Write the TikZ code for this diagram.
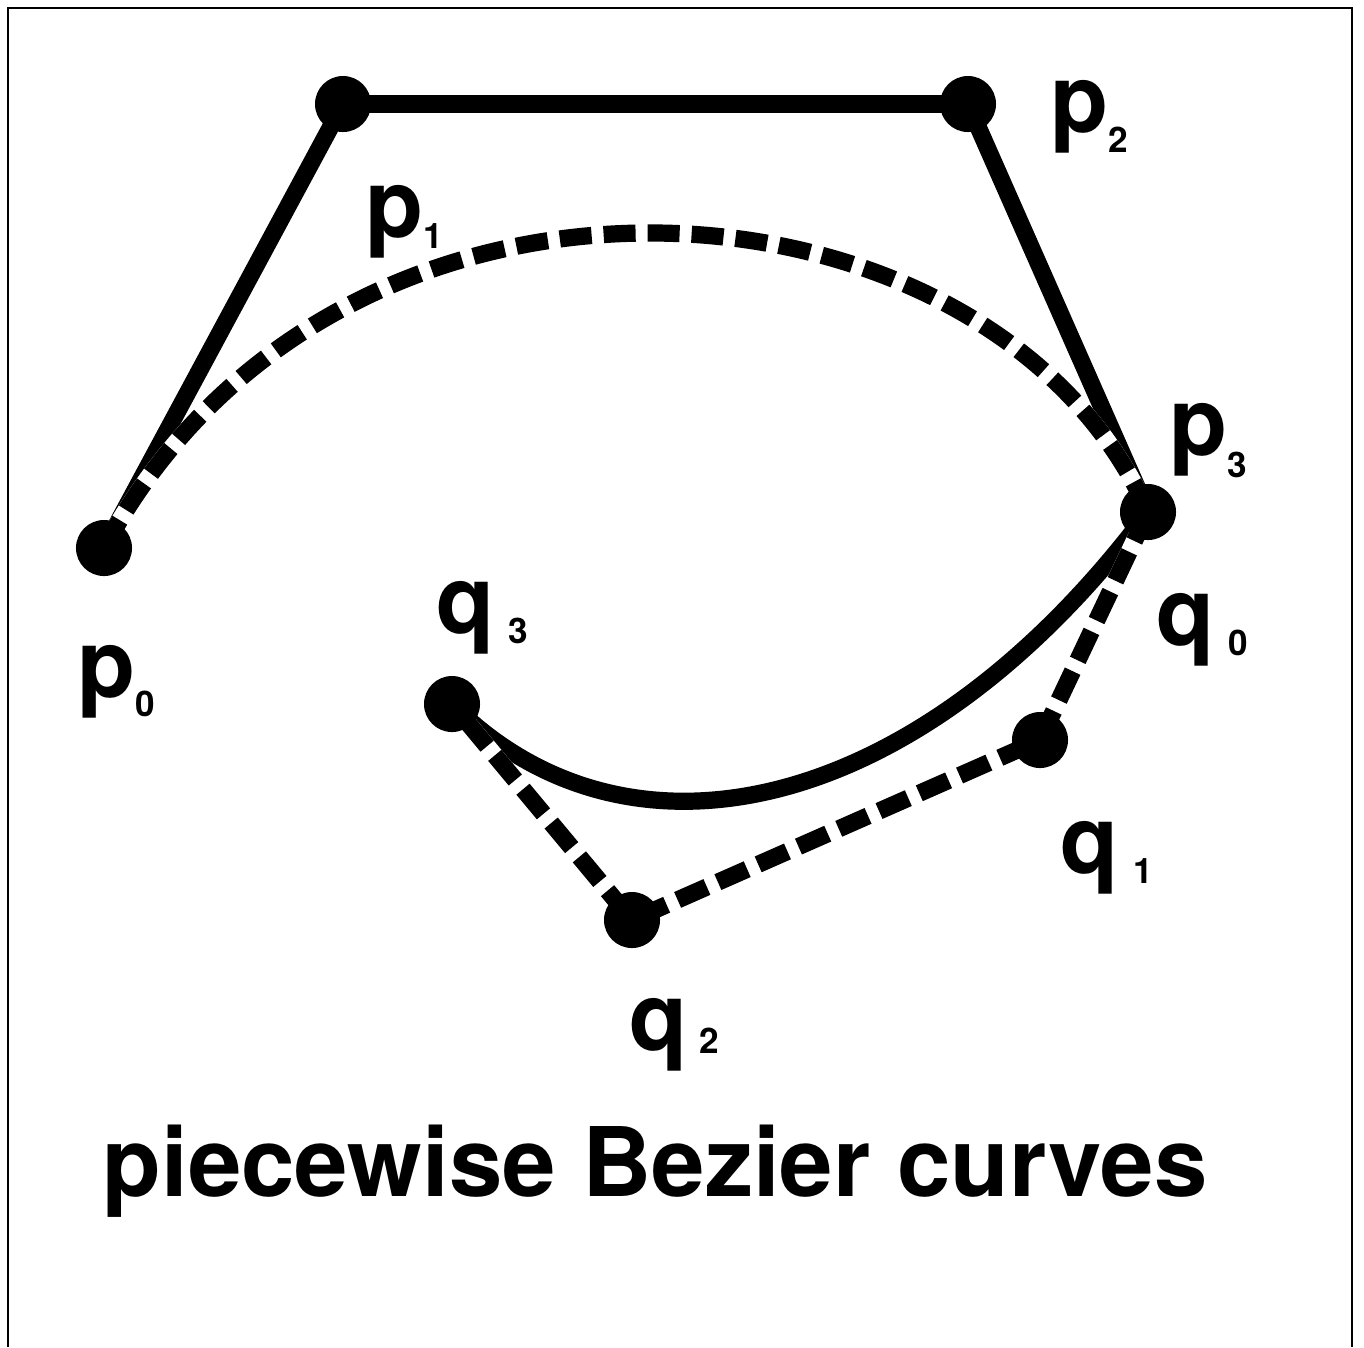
\documentclass[tikz,border=0pt]{standalone}
\usepackage{fontspec}
\setmainfont{TeX Gyre Heros}
\usepackage{tikz}
\usetikzlibrary{calc}

\newcommand{\ptlbl}[4]{{\fontsize{27}{30}\selectfont #1}\hspace{#3}\raisebox{-#4}{\fontsize{10}{12}\selectfont #2}}

\tikzset{
    dot/.style={circle, fill=black, inner sep=0pt, minimum size=0.56cm},
    polyline/.style={line width=0.172cm},
    dashline/.style={line width=0.172cm, dash pattern=on 0.32cm off 0.12cm,
        preaction={draw=white, solid, line width=0.172cm}},
    ptlabel/.style={anchor=base west, inner sep=0pt, font=\bfseries}
}

\begin{document}
\begin{tikzpicture}[x=0.01cm, y=-0.01cm]
    \useasboundingbox (0,0) rectangle (1364,1347);

    % Khung
    \draw[line width=0.022cm] (8,1347) -- (8,8) -- (1352,8) -- (1352,1347);

    % Cac diem dieu khien
    \coordinate (P0) at (104,548);
    \coordinate (P1) at (343,104);
    \coordinate (P2) at (968,104);
    \coordinate (P3) at (1148,512);
    \coordinate (Q1) at (1040,740);
    \coordinate (Q2) at (632,920);
    \coordinate (Q3) at (452,704);

    % Da giac p va duong cong p
    \draw[polyline] (P0) -- (P1);
    \draw[polyline] (P1) -- (P2);
    \draw[polyline] (P2) -- (P3);
    \draw[dashline] (P0) .. controls (340,108) and (993,160) .. (P3);

    % Duong cong q va da giac q
    \draw[polyline] (P3) .. controls (920,816) and (629,881) .. (Q3);
    \draw[dashline] (P3) -- (Q1) -- (Q2) -- (Q3);

    % Cac cham tron
    \node[dot] (p0) at (P0) {};
    \node[dot] (p1) at (P1) {};
    \node[dot] (p2) at (P2) {};
    \node[dot] (p3) at (P3) {};
    \node[dot] (q1) at (Q1) {};
    \node[dot] (q2) at (Q2) {};
    \node[dot] (q3) at (Q3) {};

    % Nhan cac diem
    \node[ptlabel] (lp0) at (77,697) {\ptlbl{p}{0}{0pt}{0.19cm}};
    \node[ptlabel] (lp1) at (365,237) {\ptlbl{p}{1}{0pt}{0.11cm}};
    \node[ptlabel] (lp2) at (1050,132) {\ptlbl{p}{2}{0pt}{0.2cm}};
    \node[ptlabel] (lp3) at (1169,455) {\ptlbl{p}{3}{0pt}{0.22cm}};
    \node[ptlabel] (lq0) at (1156,645) {\ptlbl{q}{0}{0.14cm}{0.1cm}};
    \node[ptlabel] (lq1) at (1060,873) {\ptlbl{q}{1}{0.15cm}{0.1cm}};
    \node[ptlabel] (lq2) at (629,1050) {\ptlbl{q}{2}{0.12cm}{0.03cm}};
    \node[ptlabel] (lq3) at (436,633) {\ptlbl{q}{3}{0.14cm}{0.1cm}};

    % Tieu de
    \node[anchor=base, inner sep=0pt, font=\bfseries\fontsize{27.3}{30}\selectfont] (title) at (655,1196) {piecewise Bezier curves};
\end{tikzpicture}
\end{document}
